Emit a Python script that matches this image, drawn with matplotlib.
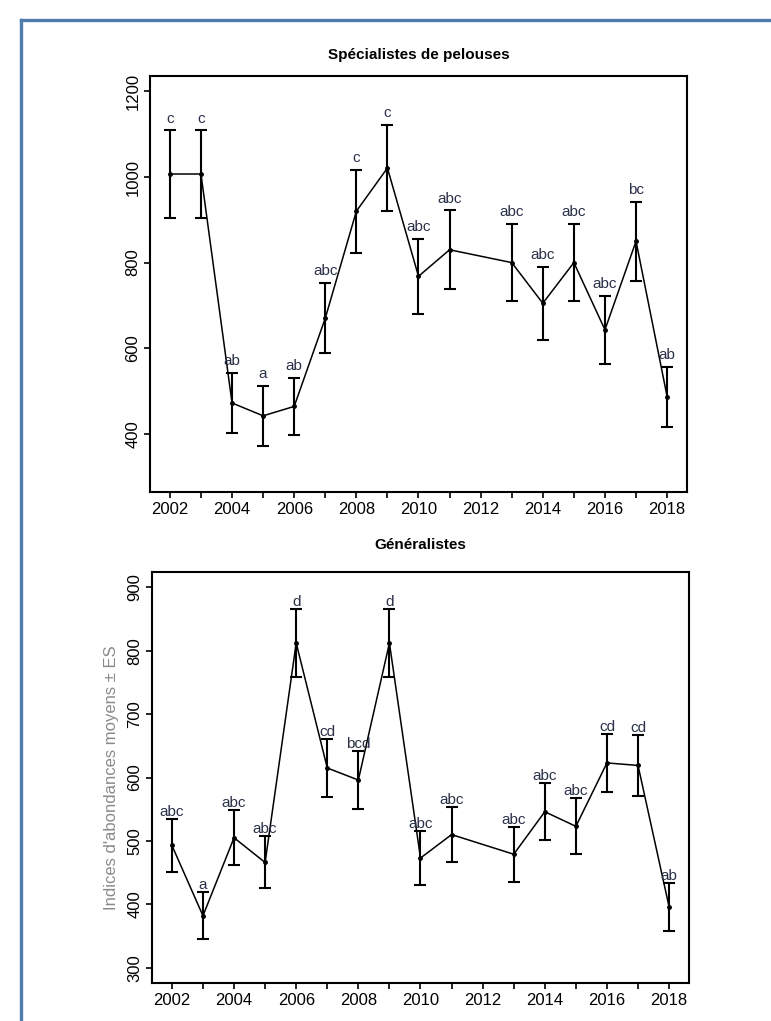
import matplotlib
import numpy as np

matplotlib.use("Agg")
import matplotlib.pyplot as plt  # noqa: E402
from matplotlib.lines import Line2D  # noqa: E402

plt.rcParams["font.family"] = ["Liberation Sans", "DejaVu Sans"]

# years sampled (no survey in 2012)
years = [2002, 2003, 2004, 2005, 2006, 2007, 2008, 2009, 2010,
         2011, 2013, 2014, 2015, 2016, 2017, 2018]

# Spécialistes de pelouses: mean abundance index and standard error
spec_mean = [1007, 1007, 472, 442, 464, 670, 920, 1021, 768,
             830, 800, 705, 800, 643, 850, 487]
spec_se = [102, 102, 70, 70, 67, 82, 97, 101, 88,
           92, 90, 85, 90, 80, 92, 70]
spec_letters = ["c", "c", "ab", "a", "ab", "abc", "c", "c", "abc",
                "abc", "abc", "abc", "abc", "abc", "bc", "ab"]

# Généralistes
gen_mean = [493, 382, 505, 466, 812, 615, 596, 812, 473,
            510, 479, 546, 523, 623, 619, 396]
gen_se = [42, 37, 43, 41, 54, 46, 46, 54, 43,
          44, 43, 45, 44, 46, 48, 38]
gen_letters = ["abc", "a", "abc", "abc", "d", "cd", "bcd", "d", "abc",
               "abc", "abc", "abc", "abc", "cd", "cd", "ab"]

all_years = list(range(2002, 2019))
year_labels = [str(y) if y % 2 == 0 else "" for y in all_years]

W, H = 771, 1021
fig = plt.figure(figsize=(W / 100, H / 100), dpi=100)

# blue frame (only left and top edges are visible)
fig.add_artist(Line2D([21 / W, 21 / W], [0, 1 - 20 / H], color="#4f7cac",
                      lw=2.4, transform=fig.transFigure))
fig.add_artist(Line2D([21 / W, 1], [1 - 20 / H, 1 - 20 / H], color="#4f7cac",
                      lw=2.4, transform=fig.transFigure))


def panel(rect, mean, se, letters, yticks, ylim, offset, title, title_y):
    ax = fig.add_axes(rect)
    mean = np.asarray(mean, float)
    se = np.asarray(se, float)
    ax.errorbar(years, mean, yerr=se, fmt="none", ecolor="black",
                elinewidth=1.5, capsize=4, capthick=1.5)
    ax.plot(years, mean, color="black", lw=1.1, marker="o", ms=2.5)
    for x, y, s, lab in zip(years, mean, se, letters):
        ax.text(x, y + s + offset, lab, ha="center", va="baseline",
                fontsize=11, color="#2a3148")
    lo, hi = ylim
    pad = 0.04 * (hi - lo)
    ax.set_ylim(lo - pad, hi + pad)
    ax.set_xlim(2002 - 0.64, 2018 + 0.64)
    ax.set_yticks(yticks)
    ax.set_yticklabels([str(t) for t in yticks], rotation=90, va="center",
                       fontsize=12)
    ax.set_xticks(all_years)
    ax.set_xticklabels(year_labels, fontsize=12)
    ax.tick_params(direction="out", length=4, width=1.2, pad=3)
    for sp in ax.spines.values():
        sp.set_linewidth(1.5)
    fig.text(rect[0] + rect[2] / 2, 1 - title_y / H, title, ha="center",
             va="center", fontsize=11, fontweight="bold")
    return ax


ax1 = panel([150 / W, 1 - 492 / H, 537 / W, 416 / H], spec_mean, spec_se,
            spec_letters, [400, 600, 800, 1000, 1200], (300, 1200), 18,
            "Spécialistes de pelouses", 55)
ax2 = panel([152 / W, 1 - 983 / H, 537 / W, 411 / H], gen_mean, gen_se,
            gen_letters, [300, 400, 500, 600, 700, 800, 900], (300, 900), 5,
            "Généralistes", 545)
ax2.set_ylabel("Indices d'abondances moyens ± ES", fontsize=12,
               color="#8a8a8a", labelpad=6)

fig.savefig("out.png", dpi=100)
